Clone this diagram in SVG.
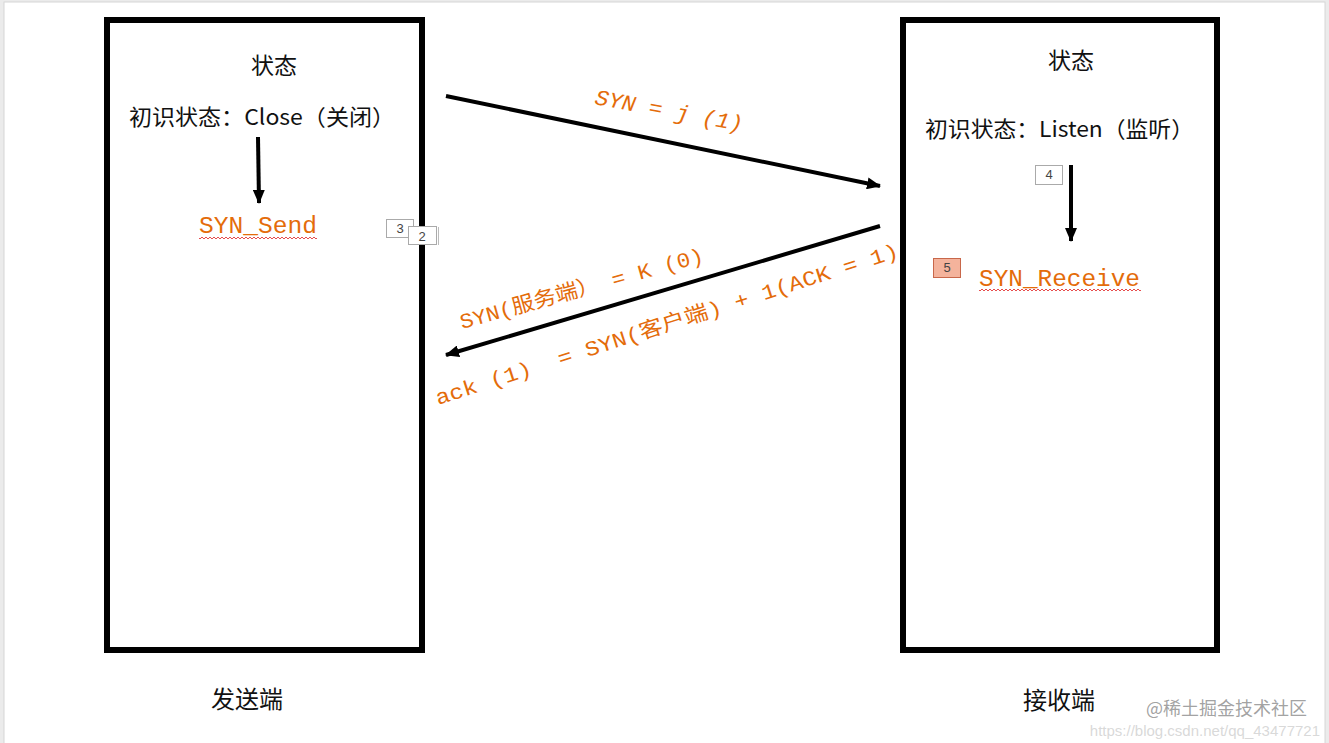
<svg xmlns="http://www.w3.org/2000/svg" width="1329" height="743" viewBox="0 0 1329 743">
<style>
.box{fill:none;stroke:#000;stroke-width:6}
.cn{font-family:"Noto Sans CJK SC","Noto Sans",sans-serif;fill:#111}
.or{font-family:"Liberation Mono","Noto Sans CJK SC",monospace;fill:#e46c0a;white-space:pre}
.tag{fill:#fff;stroke:#aaa;stroke-width:1}
.tagt{font-family:"Liberation Sans","Noto Sans",sans-serif;font-size:13px;fill:#444}
.arr{stroke:#000;stroke-width:4;fill:none}
</style>
<defs>
<marker id="ah" markerUnits="userSpaceOnUse" markerWidth="14" markerHeight="12" refX="13" refY="6" orient="auto">
<path d="M0,0 L14,6 L0,12 Z" fill="#000"/>
</marker>
<pattern id="wv" width="4" height="4" patternUnits="userSpaceOnUse"><path d="M0,3 L2,1 L4,3" fill="none" stroke="#e02020" stroke-width="0.8"/></pattern>
</defs>
<rect x="0" y="0" width="1329" height="743" fill="#ebebeb"/>
<rect x="4" y="2" width="1321" height="745" fill="#fff" stroke="#d6d6d6" stroke-width="1"/>

<g id="sender">
<rect class="box" x="107" y="20" width="315" height="630"/>
<text class="cn" x="274" y="74" font-size="23" text-anchor="middle">状态</text>
<text class="cn" x="129" y="125" font-size="22" textLength="266" lengthAdjust="spacingAndGlyphs">初识状态：Close（关闭）</text>
<text class="or" x="199" y="233" font-size="24" textLength="118" lengthAdjust="spacingAndGlyphs">SYN_Send</text>
<rect x="199" y="235" width="118" height="4" fill="url(#wv)"/>
<text class="cn" x="247" y="708" font-size="24" text-anchor="middle">发送端</text>
</g>

<g id="receiver">
<rect class="box" x="903" y="20" width="314" height="630"/>
<text class="cn" x="1071" y="69" font-size="23" text-anchor="middle">状态</text>
<text class="cn" x="925" y="137" font-size="22" textLength="269" lengthAdjust="spacingAndGlyphs">初识状态：Listen（监听）</text>
<text class="or" x="979" y="286" font-size="24" textLength="161" lengthAdjust="spacingAndGlyphs">SYN_Receive</text>
<rect x="979" y="288" width="162" height="4" fill="url(#wv)"/>
<text class="cn" x="1059" y="709" font-size="24" text-anchor="middle">接收端</text>
</g>

<g id="connectors">
<line class="arr" x1="258" y1="137" x2="259" y2="203" marker-end="url(#ah)"/>
<line class="arr" x1="1071" y1="165" x2="1071" y2="241" marker-end="url(#ah)"/>
<line class="arr" x1="446" y1="96" x2="880" y2="186" marker-end="url(#ah)"/>
<line class="arr" x1="880" y1="226" x2="446" y2="355" marker-end="url(#ah)"/>
<text class="or" font-size="22" font-style="italic" transform="translate(594,104) rotate(10.5)" textLength="150" lengthAdjust="spacingAndGlyphs">SYN = j (1)</text>
<text class="or" font-size="21" transform="translate(462,329) rotate(-15.5)" textLength="252" lengthAdjust="spacingAndGlyphs">SYN(服务端） = K (0)</text>
<text class="or" font-size="21" transform="translate(438,405) rotate(-17.8)" textLength="485" lengthAdjust="spacingAndGlyphs">ack (1)  = SYN(客户端) + 1(ACK = 1)</text>
</g>

<g id="tag3"><rect class="tag" x="386.5" y="219.5" width="27" height="18"/><text class="tagt" x="400" y="233" text-anchor="middle">3</text></g>
<g id="tag2"><rect class="tag" x="408.5" y="226.5" width="28" height="18"/><line x1="438.5" y1="227" x2="438.5" y2="245" stroke="#bbb"/><text class="tagt" x="422" y="241" text-anchor="middle">2</text></g>
<g id="tag4"><rect class="tag" x="1035.5" y="165.5" width="27" height="19"/><text class="tagt" x="1049" y="179" text-anchor="middle">4</text></g>
<g id="tag5"><rect x="933.5" y="258.5" width="27" height="19" fill="#f4b39c" stroke="#c8674a"/><text class="tagt" x="947" y="272" text-anchor="middle">5</text></g>

<text x="1307" y="715" font-family="Noto Sans CJK SC,sans-serif" font-size="18" fill="#8a8a8a" fill-opacity="0.8" text-anchor="end">@稀土掘金技术社区</text>
<text x="1320" y="736" font-family="Liberation Sans,sans-serif" font-size="15" fill="#c8c8c8" fill-opacity="0.7" text-anchor="end">https://blog.csdn.net/qq_43477721</text>
</svg>
